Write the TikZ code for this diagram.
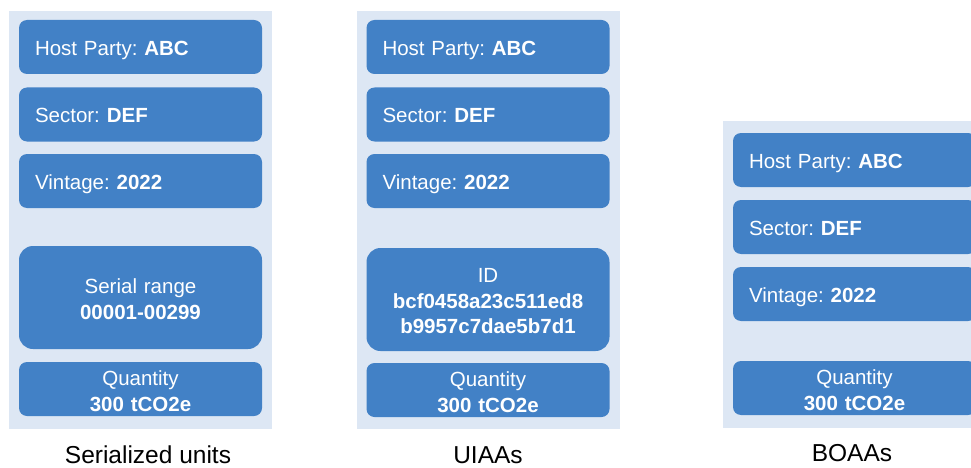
\documentclass[tikz,border=0pt]{standalone}
\usepackage{fontspec}
\setmainfont{Liberation Sans}
\frenchspacing
\definecolor{panelblue}{RGB}{221,231,244}
\definecolor{fieldblue}{RGB}{66,129,198}

\begin{document}
\begin{tikzpicture}[x=1pt, y=-1pt]
    % Define styles
    \tikzset{
        basebox/.style={fill=fieldblue, draw=none, rounded corners=8pt, minimum height=54pt, text width=211pt, inner xsep=16pt, text=white, font=\fontsize{20.5}{25.8}\selectfont},
        fieldbox/.style={basebox, align=left, text height=16.7pt, text depth=0pt},
        valuebox/.style={basebox, align=center, text height=15pt, text depth=22.3pt},
        rangebox/.style={valuebox, minimum height=103pt, rounded corners=14pt},
        panelbg/.style={fill=panelblue, draw=none},
        captionlabel/.style={anchor=base, inner sep=0pt, font=\fontsize{24.5}{29}\selectfont}
    }

    % Picture frame
    \clip (0,0) rectangle (971,468);

    % Panel backgrounds
    \fill[panelbg] (9,11) rectangle (272,429);
    \fill[panelbg] (357,11) rectangle (620,429);
    \fill[panelbg] (723,121) rectangle (986,428);

    % Serialized units
    \node[fieldbox] (host1) at (140.5,47) {Host Party: \textbf{ABC}};
    \node[fieldbox] (sector1) at (140.5,114.5) {Sector: \textbf{DEF}};
    \node[fieldbox] (vintage1) at (140.5,181) {Vintage: \textbf{2022}};
    \node[rangebox] (serial1) at (140.5,297.5) {Serial range\\\textbf{00001-00299}};
    \node[valuebox] (qty1) at (140.5,389) {Quantity\\\textbf{300 tCO2e}};

    % UIAAs
    \node[fieldbox] (host2) at (488,47) {Host Party: \textbf{ABC}};
    \node[fieldbox] (sector2) at (488,114.5) {Sector: \textbf{DEF}};
    \node[fieldbox] (vintage2) at (488,181) {Vintage: \textbf{2022}};
    \node[rangebox, text depth=49.3pt] (id2) at (488,299.5) {ID\\\textbf{bcf0458a23c511ed8}\\\textbf{b9957c7dae5b7d1}};
    \node[valuebox] (qty2) at (488,390) {Quantity\\\textbf{300 tCO2e}};

    % BOAAs
    \node[fieldbox] (host3) at (854.5,160) {Host Party: \textbf{ABC}};
    \node[fieldbox] (sector3) at (854.5,227) {Sector: \textbf{DEF}};
    \node[fieldbox] (vintage3) at (854.5,294) {Vintage: \textbf{2022}};
    \node[valuebox] (qty3) at (854.5,388) {Quantity\\\textbf{300 tCO2e}};

    % Captions
    \node[captionlabel] (cap1) at (148,463) {Serialized units};
    \node[captionlabel] (cap2) at (488,463) {UIAAs};
    \node[captionlabel] (cap3) at (852,461) {BOAAs};
\end{tikzpicture}
\end{document}
